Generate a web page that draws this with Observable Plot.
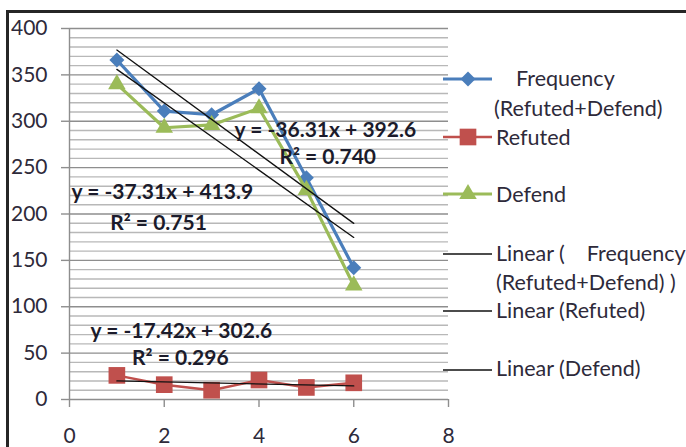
<!DOCTYPE html>
<html><head><meta charset="utf-8">
<script src="https://cdn.jsdelivr.net/npm/d3@7"></script>
<script src="https://cdn.jsdelivr.net/npm/@observablehq/plot@0.6"></script>
<style>
html,body{margin:0;padding:0;background:#fff;overflow:hidden;width:686px;height:447px}
#wrap{position:relative;width:686px;height:447px;font-family:Lato, sans-serif;color:#2e2a3a}
#frame{position:absolute;left:6px;top:10px;width:760px;height:520px;border:3px solid #262626;box-sizing:border-box}
#chart{position:absolute;left:0;top:0}
.lg{position:absolute;font-size:21.5px;line-height:24px;white-space:pre;color:#2e2a3a}
.lgsw{position:absolute}
</style></head>
<body>
<div id="wrap"><div id="frame"></div><div id="chart"></div><div id="legend"></div></div>
<script>
// ---- data ----
const xValues   = [1, 2, 3, 4, 5, 6];
const frequency = [366, 311, 307, 335, 239, 142];
const refuted   = [26, 16, 10, 21, 13, 18];
const defend    = [340, 293, 296, 314, 226, 123];

const seriesNames = ["Frequency (Refuted+Defend)", "Refuted", "Defend"];
const xTicks = [0, 2, 4, 6, 8];
const yTicks = [0, 50, 100, 150, 200, 250, 300, 350, 400];
const yMinorGrid = [10, 20, 30, 40, 60, 70, 80, 90, 110, 120, 130, 140, 160, 170, 180, 190,
  210, 220, 230, 240, 260, 270, 280, 290, 310, 320, 330, 340, 360, 370, 380, 390];

// trendline equation labels (text, anchor in data units)
const eqTexts = ["y = -37.31x + 413.9", "R\u00B2 = 0.751", "y = -36.31x + 392.6", "R\u00B2 = 0.740", "y = -17.42x + 302.6", "R\u00B2 = 0.296"];
const eqX = [1.96, 1.88, 5.40, 5.45, 2.36, 2.34];
const eqY = [223, 190, 290, 261, 74, 44];

const legendLabels = [["    Frequency", "(Refuted+Defend)"], ["Refuted"], ["Defend"],
  ["Linear (    Frequency", "(Refuted+Defend) )"], ["Linear (Refuted)"], ["Linear (Defend)"]];

// ---- style ----
const C = {freq: "#4a7ebb", ref: "#c0504d", def: "#9bbb59", trend: "#111", major: "#8e8e8e", minor: "#b8b8b8"};

const rows = xValues.map((x, i) => ({x, frequency: frequency[i], refuted: refuted[i], defend: defend[i]}));
const eqRows = eqTexts.map((t, i) => ({text: t, x: eqX[i], y: eqY[i]}));

const chart = Plot.plot({
  width: 686, height: 447,
  marginLeft: 69, marginRight: 238, marginTop: 28, marginBottom: 48,
  style: {fontFamily: "Lato, sans-serif", fontSize: "21px", color: "#2e2a3a", background: "transparent", overflow: "visible"},
  x: {domain: [0, 8]},
  y: {domain: [0, 400]},
  marks: [
    Plot.ruleY(yMinorGrid, {stroke: C.minor, strokeWidth: 1.4}),
    Plot.ruleY(yTicks, {stroke: C.major, strokeWidth: 1.4}),
    Plot.ruleX([0], {stroke: C.major, strokeWidth: 1.4}),
    Plot.axisY(yTicks, {tickSize: 8, tickPadding: 14, stroke: C.major, strokeWidth: 1.4, label: null, fontSize: 21}),
    Plot.axisX(xTicks, {tickSize: 8, tickPadding: 21, stroke: C.major, strokeWidth: 1.4, label: null, fontSize: 21}),
    Plot.line(rows, {x: "x", y: "frequency", stroke: C.freq, strokeWidth: 3.2}),
    Plot.dot(rows, {x: "x", y: "frequency", symbol: "square", rotate: 45, r: 6, fill: C.freq}),
    Plot.line(rows, {x: "x", y: "refuted", stroke: C.ref, strokeWidth: 2.5}),
    Plot.dot(rows, {x: "x", y: "refuted", symbol: "square", r: 9.4, fill: C.ref}),
    Plot.line(rows, {x: "x", y: "defend", stroke: C.def, strokeWidth: 3.2}),
    Plot.dot(rows, {x: "x", y: "defend", symbol: "triangle", r: 6.5, fill: C.def}),
    Plot.linearRegressionY(rows, {x: "x", y: "frequency", stroke: C.trend, strokeWidth: 1.3, ci: 0}),
    Plot.linearRegressionY(rows, {x: "x", y: "refuted", stroke: C.trend, strokeWidth: 1.3, ci: 0}),
    Plot.linearRegressionY(rows, {x: "x", y: "defend", stroke: C.trend, strokeWidth: 1.3, ci: 0}),
    Plot.text(eqRows, {x: "x", y: "y", text: "text", fontWeight: "bold", fontSize: 21, fill: "#1b1b2b"})
  ]
});
document.getElementById("chart").appendChild(chart);

// ---- legend (HTML overlay) ----
const legendLayout = [
  {lineY: 79,  textY: [78, 108], textX: [494, 494], color: C.freq, sym: "diamond", w: 3.2},
  {lineY: 137, textY: [137],     textX: [496],      color: C.ref,  sym: "square",  w: 2.5},
  {lineY: 194, textY: [194],     textX: [496],      color: C.def,  sym: "triangle", w: 3.2},
  {lineY: 254, textY: [253, 282], textX: [496, 496], color: C.trend, sym: null, w: 1.3},
  {lineY: 311, textY: [310],     textX: [496],      color: C.trend, sym: null, w: 1.3},
  {lineY: 370, textY: [368],     textX: [496],      color: C.trend, sym: null, w: 1.3}
];
const lg = document.getElementById("legend");
legendLayout.forEach((L, i) => {
  const svg = d3.create("svg").attr("class", "lgsw").attr("width", 52).attr("height", 24)
    .style("left", "442px").style("top", (L.lineY - 12) + "px");
  svg.append("line").attr("x1", 1).attr("x2", 50).attr("y1", 12).attr("y2", 12)
    .attr("stroke", L.color).attr("stroke-width", L.w);
  if (L.sym === "diamond") svg.append("path").attr("d", d3.symbol(d3.symbolSquare, Math.PI * 36)()).attr("transform", "translate(26,12) rotate(45)").attr("fill", L.color);
  if (L.sym === "square") svg.append("path").attr("d", d3.symbol(d3.symbolSquare, Math.PI * 9.4 * 9.4)()).attr("transform", "translate(26,12)").attr("fill", L.color);
  if (L.sym === "triangle") svg.append("path").attr("d", d3.symbol(d3.symbolTriangle, Math.PI * 6.5 * 6.5)()).attr("transform", "translate(26,12)").attr("fill", L.color);
  lg.appendChild(svg.node());
  legendLabels[i].forEach((t, j) => {
    const d = document.createElement("div");
    d.className = "lg";
    d.textContent = t;
    d.style.left = L.textX[j] + "px";
    d.style.top = (L.textY[j] - 12) + "px";
    lg.appendChild(d);
  });
});
</script>
</body></html>
